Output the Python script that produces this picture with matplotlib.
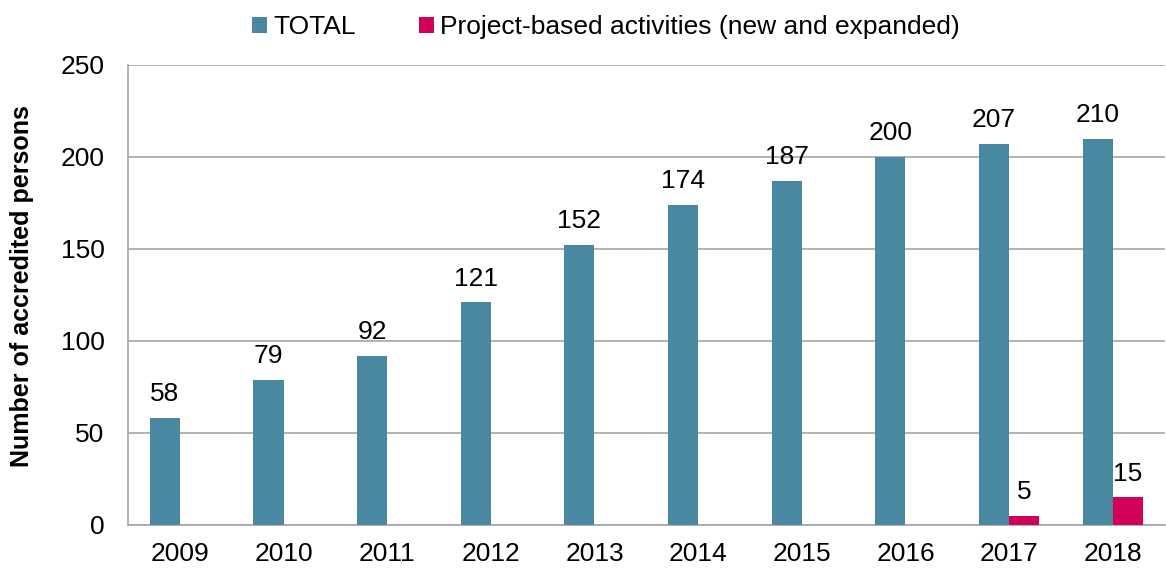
import matplotlib
matplotlib.use("Agg")
import matplotlib.pyplot as plt
import numpy as np

years = ["2009", "2010", "2011", "2012", "2013", "2014", "2015", "2016", "2017", "2018"]
total = [58, 79, 92, 121, 152, 174, 187, 200, 207, 210]
project = [None, None, None, None, None, None, None, None, 5, 15]

TEAL = "#4A88A2"
MAGENTA = "#D10058"
FS = 19
plt.rcParams["font.family"] = ["Liberation Sans", "DejaVu Sans"]

fig = plt.figure(figsize=(11.66, 5.72), dpi=100)
ax = fig.add_axes([0.1098, 0.0822, 0.889, 0.8042])

x = np.arange(len(years))
w = 0.29
ax.bar(x - w/2, total, width=w, color=TEAL, label="TOTAL", zorder=3)
pv = [v if v is not None else 0 for v in project]
ax.bar(x + w/2, pv, width=w, color=MAGENTA,
       label="Project-based activities (new and expanded)", zorder=3)

for i, v in enumerate(total):
    ax.annotate(str(v), (x[i] - w/2, v), xytext=(0, 8.5), textcoords="offset points",
                ha="center", va="bottom", fontsize=FS)
for i, v in enumerate(project):
    if v is not None:
        ax.annotate(str(v), (x[i] + w/2, v), xytext=(0, 8.5), textcoords="offset points",
                    ha="center", va="bottom", fontsize=FS)

ax.set_xlim(-0.5, len(years) - 0.5)
ax.set_ylim(0, 250)
ax.set_yticks(range(0, 251, 50))
ax.set_xticks(x)
ax.set_xticklabels(years)
ax.tick_params(length=0, labelsize=FS)
ax.tick_params(axis="x", pad=12)
ax.tick_params(axis="y", pad=17)
ax.yaxis.grid(True, color="#A6A6A6", lw=1.2, zorder=0)
for s in ("top", "right"):
    ax.spines[s].set_visible(False)
for s in ("left", "bottom"):
    ax.spines[s].set_color("#A6A6A6")
    ax.spines[s].set_linewidth(1.2)
ax.set_ylabel("Number of accredited persons", fontsize=18, fontweight="bold")
ax.yaxis.set_label_coords(-0.0906, 0.52)

fig.legend(loc="upper center", bbox_to_anchor=(0.52, 1.015), ncol=2, frameon=False,
           fontsize=FS, handlelength=0.55, handleheight=0.55, handletextpad=0.25,
           columnspacing=2.4)

fig.savefig("out.png", dpi=100)
